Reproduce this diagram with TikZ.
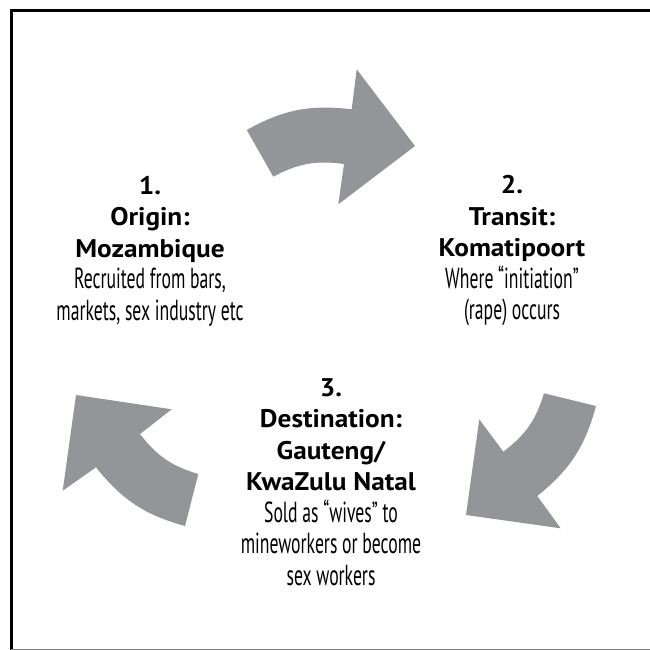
\documentclass[tikz,border=0pt]{standalone}
\usepackage{fontspec}
\setmainfont{PT Sans}
\newfontfamily\condfont[FakeStretch=0.61]{PT Sans}
\newfontfamily\headfont[FakeStretch=1.07]{PT Sans}
\newcommand{\desc}[1]{{\condfont\fontsize{29}{31.5}\selectfont #1}}
\definecolor{arrowgray}{RGB}{147,149,152}

\begin{document}
\begin{tikzpicture}[x=1pt,y=-1pt,
    bigarrow/.style={fill=arrowgray},
    place/.style={align=center,font=\fontsize{25.5}{31.5}\selectfont}]
    \useasboundingbox (0,0) rectangle (649,650);
    \draw[line width=3pt] (11,652) -- (11,11) -- (652,11);
    \draw[gray, line width=1pt] (11,649.5) -- (652,649.5);

    % arrow 1 -> 2
    \fill[bigarrow] (246.7,130) to[bend left=18] (351.7,109.3) -- (356.7,69.3)
        -- (415,146) -- (338.3,204.3) -- (344,164)
        to[bend right=18] (273.3,176.7) -- cycle;
    % arrow 2 -> 3
    \fill[bigarrow] (544,393.3) -- (596,406) to[bend left=18] (537.3,496)
        -- (560.7,528.3) -- (466,515) -- (479.3,419.3) -- (503.3,451.7)
        to[bend right=18] cycle;
    % arrow 3 -> 1
    \fill[bigarrow] (198.3,474) to[bend left=18] (140,434) -- (171.7,409.3)
        -- (76,395) -- (62.7,490.7) -- (96,467.3)
        to[bend right=18] (185,526) -- cycle;

    \node[place] (origin) at (150,251) {{\headfont\bfseries 1.}\\
        {\headfont\bfseries Origin:}\\ {\headfont\bfseries Mozambique}\\
        \desc{Recruited from bars,}\\ \desc{markets, sex industry etc}};
    \node[place] (transit) at (512,251) {{\headfont\bfseries 2.}\\
        {\headfont\bfseries Transit:}\\ {\headfont\bfseries Komatipoort}\\
        \desc{Where “initiation”}\\ \desc{(rape) occurs}};
    \node[place] (destination) at (331,482) {{\headfont\bfseries 3.}\\
        {\headfont\bfseries Destination:}\\ {\headfont\bfseries Gauteng/}\\
        {\headfont\bfseries KwaZulu Natal}\\ \desc{Sold as “wives” to}\\
        \desc{mineworkers or become}\\ \desc{sex workers}};
\end{tikzpicture}
\end{document}
